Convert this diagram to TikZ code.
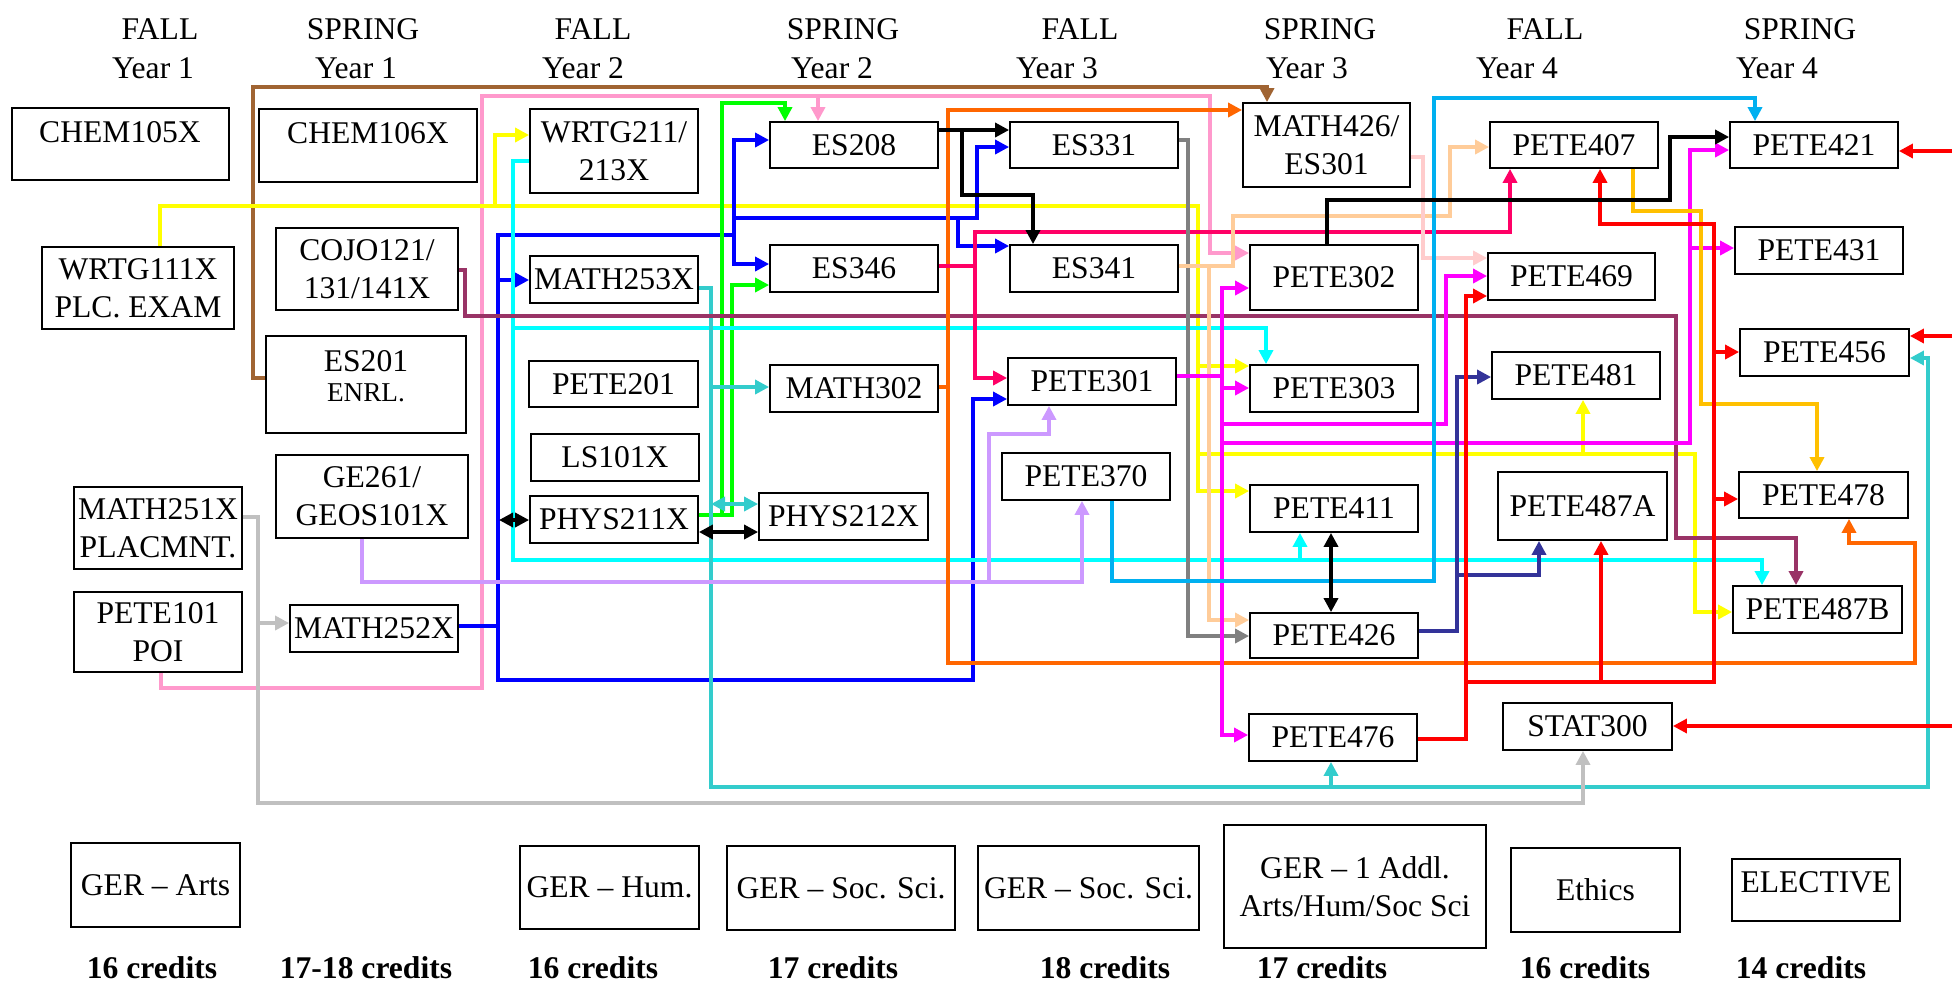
\documentclass[tikz,border=0pt]{standalone}
\usepackage{fontspec}
\setmainfont{Liberation Serif}
\usetikzlibrary{arrows.meta}
\definecolor{brownc}{RGB}{160,100,50}
\definecolor{pinkc}{HTML}{FF99CC}
\definecolor{yellowc}{HTML}{FFFF00}
\definecolor{bluec}{HTML}{0000FF}
\definecolor{cyanc}{HTML}{00FFFF}
\definecolor{tealc}{HTML}{33CCCC}
\definecolor{greenc}{HTML}{00FF00}
\definecolor{maroonc}{HTML}{993366}
\definecolor{lavc}{HTML}{CC99FF}
\definecolor{silverc}{HTML}{C0C0C0}
\definecolor{orangec}{HTML}{FF6600}
\definecolor{crimsonc}{HTML}{FF0066}
\definecolor{redc}{HTML}{FF0000}
\definecolor{dgrayc}{HTML}{808080}
\definecolor{peachc}{HTML}{FFCC99}
\definecolor{lpinkc}{HTML}{FFCCCC}
\definecolor{magc}{HTML}{FF00FF}
\definecolor{skyc}{HTML}{00B0F0}
\definecolor{goldc}{HTML}{FFC000}
\definecolor{navyc}{HTML}{333399}
\newcommand{\bxfont}{\fontsize{15.8}{19}\selectfont}
\newcommand{\smfont}{\fontsize{13.6}{16}\selectfont}
\newcommand{\cbox}[6]{\node[cbx,minimum width={0.5pt*(#4-#2)},minimum height={0.5pt*(#5-#3)}] (#1) at ({(#2+#4)/2},{(#3+#5)/2}) {#6};}
\begin{document}
\begin{tikzpicture}[x=0.5pt,y=-0.5pt,
  cbx/.style={draw,line width=0.9pt,inner sep=0pt,align=center,font=\bxfont},
  txt/.style={inner sep=0pt,align=center,font=\bxfont},
  cred/.style={inner sep=0pt,font=\bxfont\bfseries},
  con/.style={line width=1.7pt},
  arr/.style={con,-{Triangle[length=7pt,width=7pt]}},
  darr/.style={con,{Triangle[length=7pt,width=7pt]}-{Triangle[length=7pt,width=7pt]}}]
\useasboundingbox (0,0) rectangle (1952,982);

% headers
\node[txt] (h1a) at (160,29) {FALL};   \node[txt] (h1b) at (153,68) {Year 1};
\node[txt] (h2a) at (363,29) {SPRING}; \node[txt] (h2b) at (356,68) {Year 1};
\node[txt] (h3a) at (593,29) {FALL};   \node[txt] (h3b) at (583,68) {Year 2};
\node[txt] (h4a) at (843,29) {SPRING}; \node[txt] (h4b) at (832,68) {Year 2};
\node[txt] (h5a) at (1080,29) {FALL};  \node[txt] (h5b) at (1057,68) {Year 3};
\node[txt] (h6a) at (1320,29) {SPRING};\node[txt] (h6b) at (1307,68) {Year 3};
\node[txt] (h7a) at (1545,29) {FALL};  \node[txt] (h7b) at (1517,68) {Year 4};
\node[txt] (h8a) at (1800,29) {SPRING};\node[txt] (h8b) at (1777,68) {Year 4};

% boxes
\cbox{CHEMa}{12}{108}{229}{180}{}
\node[txt] (CHEMat) at (120,132) {CHEM105X};
\cbox{CHEMb}{259}{109}{477}{182}{}
\node[txt] (CHEMbt) at (368,133) {CHEM106X};
\cbox{WRTGa}{42}{247}{234}{329}{WRTG111X\\PLC. EXAM}
\cbox{COJO}{276}{228}{458}{310}{COJO121/\\131/141X}
\cbox{ESa}{266}{336}{466}{433}{}
\node[txt] (ESat) at (366,361) {ES201};
\node[txt,font=\smfont] (ESas) at (366,393) {ENRL.};
\cbox{GE}{276}{455}{468}{538}{GE261/\\GEOS101X}
\cbox{MATHa}{74}{487}{242}{569}{MATH251X\\PLACMNT.}
\cbox{PETEa}{74}{592}{242}{672}{PETE101\\POI}
\cbox{MATHb}{290}{605}{458}{652}{MATH252X}
\cbox{WRTGb}{530}{109}{698}{193}{WRTG211/\\213X}
\cbox{MATHc}{530}{256}{698}{303}{MATH253X}
\cbox{PETEb}{529}{361}{698}{407}{PETE201}
\cbox{LS}{531}{434}{699}{481}{LS101X}
\cbox{PHYSa}{530}{496}{698}{543}{PHYS211X}
\cbox{ESb}{770}{122}{938}{168}{ES208}
\cbox{ESc}{770}{245}{938}{292}{ES346}
\cbox{MATHd}{770}{365}{938}{412}{MATH302}
\cbox{PHYSb}{759}{493}{928}{540}{PHYS212X}
\cbox{ESd}{1010}{122}{1178}{168}{ES331}
\cbox{ESe}{1010}{245}{1178}{292}{ES341}
\cbox{Pc}{1008}{358}{1176}{405}{PETE301}
\cbox{Pd}{1002}{453}{1170}{500}{PETE370}
\cbox{MATHe}{1243}{103}{1410}{187}{MATH426/\\ES301}
\cbox{Pe}{1250}{245}{1418}{310}{PETE302}
\cbox{Pf}{1250}{365}{1418}{412}{PETE303}
\cbox{Pg}{1250}{485}{1418}{532}{PETE411}
\cbox{Ph}{1250}{613}{1418}{658}{PETE426}
\cbox{Pi}{1249}{714}{1417}{761}{PETE476}
\cbox{Pj}{1490}{122}{1658}{168}{PETE407}
\cbox{Pk}{1488}{253}{1655}{300}{PETE469}
\cbox{Pl}{1492}{352}{1660}{399}{PETE481}
\cbox{Pm}{1498}{472}{1667}{540}{PETE487A}
\cbox{STAT}{1503}{703}{1672}{750}{STAT300}
\cbox{Pn}{1730}{122}{1898}{168}{PETE421}
\cbox{Po}{1735}{227}{1903}{274}{PETE431}
\cbox{Pp}{1740}{329}{1909}{376}{PETE456}
\cbox{Pq}{1739}{472}{1908}{518}{PETE478}
\cbox{Pr}{1733}{586}{1902}{633}{PETE487B}
\cbox{Ga}{71}{843}{240}{927}{GER – Arts}
\cbox{Gb}{520}{846}{699}{929}{GER – Hum.}
\cbox{Gc}{727}{846}{955}{930}{GER – Soc. Sci.}
\cbox{Gd}{978}{846}{1199}{930}{GER – Soc. Sci.}
\cbox{Ge}{1224}{825}{1486}{948}{GER – 1 Addl.\\Arts/Hum/Soc Sci}
\cbox{Gf}{1511}{848}{1680}{932}{Ethics}
\cbox{Gg}{1732}{859}{1900}{921}{}
\node[txt] (Ggt) at (1816,882) {ELECTIVE};

% credits
\node[cred] (c1) at (152,968) {16 credits};
\node[cred] (c2) at (366,968) {17-18 credits};
\node[cred] (c3) at (593,968) {16 credits};
\node[cred] (c4) at (833,968) {17 credits};
\node[cred] (c5) at (1105,968) {18 credits};
\node[cred] (c6) at (1322,968) {17 credits};
\node[cred] (c7) at (1585,968) {16 credits};
\node[cred] (c8) at (1801,968) {14 credits};

% free ends
\coordinate (rin1) at (1952,151);
\coordinate (rin2) at (1952,336);
\coordinate (rin3) at (1952,726);
\coordinate (phL) at (499,520);

% brown
\draw[arr,brownc] (ESa.west |- 0,378) -- (253,378) -- (253,87) -- (1267,87) -- (MATHe.north -| 1267,0);
% pink
\draw[arr,pinkc] (PETEa.south -| 161,0) -- (161,688) -- (482,688) -- (482,96) -- (1210,96) -- (1210,253) -- (Pe.west |- 0,253);
\draw[arr,pinkc] (818,96) -- (ESb.north -| 818,0);
% yellow
\draw[arr,yellowc] (WRTGa.north -| 160,0) -- (160,206) -- (1198,206) -- (1198,491) -- (Pg.west |- 0,491);
\draw[arr,yellowc] (495,206) -- (495,135) -- (WRTGb.west |- 0,135);
\draw[arr,yellowc] (1198,366) -- (Pf.west |- 0,366);
\draw[arr,yellowc] (1198,454) -- (1695,454) -- (1695,612) -- (Pr.west |- 0,612);
\draw[arr,yellowc] (1583,454) -- (Pl.south -| 1583,0);
% blue
\draw[arr,bluec] (MATHb.east |- 0,626) -- (498,626) -- (498,680) -- (973,680) -- (973,399) -- (Pc.west |- 0,399);
\draw[con,bluec] (498,626) -- (498,235) -- (734,235);
\draw[arr,bluec] (498,280) -- (MATHc.west |- 0,280);
\draw[arr,bluec] (734,218) -- (734,140) -- (ESb.west |- 0,140);
\draw[arr,bluec] (734,218) -- (734,264) -- (ESc.west |- 0,264);
\draw[arr,bluec] (734,218) -- (977,218) -- (977,147) -- (ESd.west |- 0,147);
\draw[arr,bluec] (958,218) -- (958,246) -- (ESe.west |- 0,246);
% green
\draw[arr,greenc] (PHYSa.east |- 0,515) -- (732,515) -- (732,285) -- (ESc.west |- 0,285);
\draw[arr,greenc] (722,515) -- (722,103) -- (785,103) -- (ESb.north -| 785,0);
% cyan
\draw[arr,cyanc] (WRTGb.west |- 0,161) -- (513,161) -- (513,560) -- (1762,560) -- (Pr.north -| 1762,0);
\draw[arr,cyanc] (513,328) -- (1266,328) -- (Pf.north -| 1266,0);
\draw[arr,cyanc] (1300,560) -- (Pg.south -| 1300,0);
% teal
\draw[arr,tealc] (MATHc.east |- 0,288) -- (711,288) -- (711,787) -- (1928,787) -- (1928,358) -- (Pp.east |- 0,358);
\draw[arr,tealc] (711,387) -- (MATHd.west |- 0,387);
\draw[darr,tealc] (711,504) -- (PHYSb.west |- 0,504);
\draw[arr,tealc] (1331,787) -- (Pi.south -| 1331,0);
% maroon
\draw[arr,maroonc] (COJO.east |- 0,270) -- (465,270) -- (465,316) -- (1676,316) -- (1676,538) -- (1796,538) -- (Pr.north -| 1796,0);
% lavender
\draw[arr,lavc] (GE.south -| 362,0) -- (362,582) -- (1082,582) -- (Pd.south -| 1082,0);
\draw[arr,lavc] (989,582) -- (989,434) -- (1049,434) -- (Pc.south -| 1049,0);
% silver
\draw[arr,silverc] (MATHa.east |- 0,517) -- (258,517) -- (258,803) -- (1583,803) -- (STAT.south -| 1583,0);
\draw[arr,silverc] (258,623) -- (MATHb.west |- 0,623);
% orange
\draw[arr,orangec] (MATHd.east |- 0,387) -- (948,387) -- (948,110) -- (MATHe.west |- 0,110);
\draw[arr,orangec] (948,387) -- (948,663) -- (1915,663) -- (1915,543) -- (1849,543) -- (Pq.south -| 1849,0);
% crimson
\draw[arr,crimsonc] (ESc.east |- 0,266) -- (975,266) -- (975,232) -- (1510,232) -- (Pj.south -| 1510,0);
\draw[arr,crimsonc] (975,266) -- (975,378) -- (Pc.west |- 0,378);
% dark gray
\draw[arr,dgrayc] (ESd.east |- 0,140) -- (1188,140) -- (1188,636) -- (Ph.west |- 0,636);
% peach
\draw[arr,peachc] (ESe.east |- 0,266) -- (1209,266) -- (1209,620) -- (Ph.west |- 0,620);
\draw[arr,peachc] (1209,266) -- (1233,266) -- (1233,216) -- (1450,216) -- (1450,147) -- (Pj.west |- 0,147);
% light pink
\draw[arr,lpinkc] (MATHe.east |- 0,157) -- (1423,157) -- (1423,258) -- (Pk.west |- 0,258);
% magenta
\draw[arr,magc] (Pc.east |- 0,376) -- (1222,376) -- (1222,735) -- (Pi.west |- 0,735);
\draw[arr,magc] (1222,376) -- (1222,288) -- (Pe.west |- 0,288);
\draw[arr,magc] (1222,388) -- (Pf.west |- 0,388);
\draw[arr,magc] (1222,424) -- (1446,424) -- (1446,276) -- (Pk.west |- 0,276);
\draw[arr,magc] (1222,443) -- (1690,443) -- (1690,150) -- (Pn.west |- 0,150);
\draw[arr,magc] (1690,248) -- (Po.west |- 0,248);
% sky blue
\draw[arr,skyc] (Pd.south -| 1112,0) -- (1112,581) -- (1434,581) -- (1434,98) -- (1755,98) -- (Pn.north -| 1755,0);
% gold
\draw[arr,goldc] (Pj.south -| 1633,0) -- (1633,211) -- (1701,211) -- (1701,404) -- (1817,404) -- (Pq.north -| 1817,0);
% navy
\draw[arr,navyc] (Ph.east |- 0,631) -- (1457,631) -- (1457,377) -- (Pl.west |- 0,377);
\draw[arr,navyc] (1457,575) -- (1539,575) -- (Pm.south -| 1539,0);
% red
\draw[arr,redc] (Pi.east |- 0,739) -- (1466,739) -- (1466,296) -- (Pk.west |- 0,296);
\draw[arr,redc] (1466,682) -- (1714,682) -- (1714,224) -- (1600,224) -- (Pj.south -| 1600,0);
\draw[arr,redc] (1714,352) -- (Pp.west |- 0,352);
\draw[arr,redc] (1714,499) -- (Pq.west |- 0,499);
\draw[arr,redc] (1601,682) -- (Pm.south -| 1601,0);
\draw[arr,redc] (rin1) -- (Pn.east |- 0,151);
\draw[arr,redc] (rin2) -- (Pp.east |- 0,336);
\draw[arr,redc] (rin3) -- (STAT.east |- 0,726);
% black
\draw[arr] (ESb.east |- 0,130) -- (ESd.west |- 0,130);
\draw[arr] (962,130) -- (962,195) -- (1033,195) -- (ESe.north -| 1033,0);
\draw[arr] (Pe.north -| 1327,0) -- (1327,200) -- (1670,200) -- (1670,137) -- (Pn.west |- 0,137);
\draw[darr] (phL) -- (PHYSa.west |- 0,520);
\draw[darr] (PHYSa.east |- 0,532) -- (PHYSb.west |- 0,532);
\draw[darr] (Pg.south -| 1331,0) -- (Ph.north -| 1331,0);
\end{tikzpicture}
\end{document}
